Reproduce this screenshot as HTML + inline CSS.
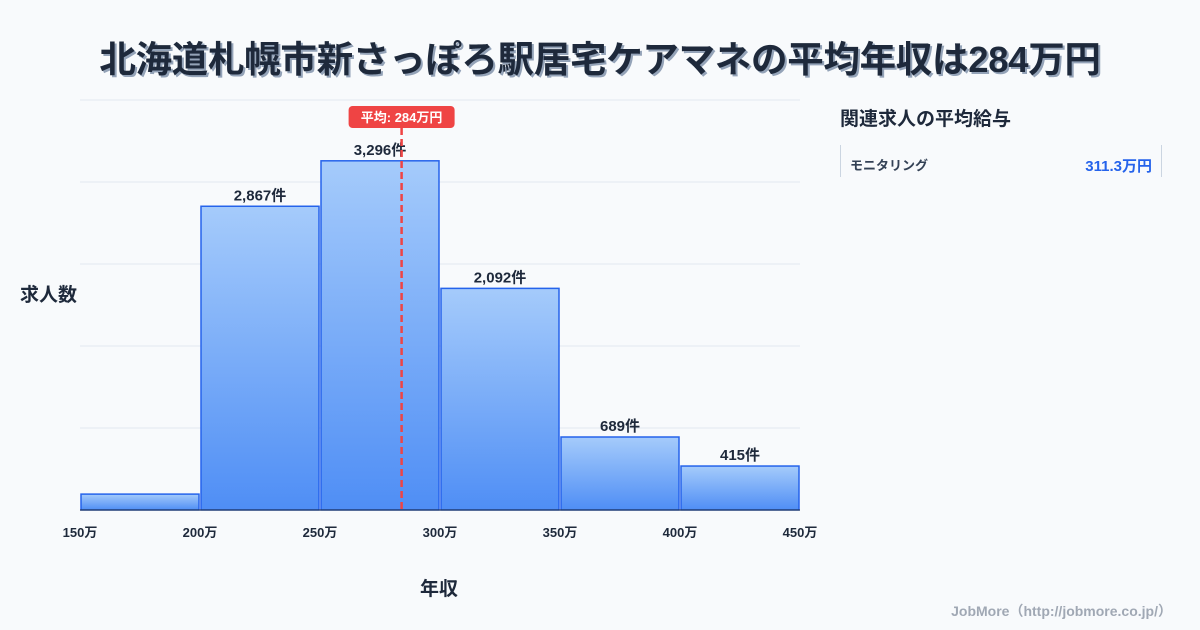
<!DOCTYPE html>
<html><head><meta charset="utf-8">
<style>
body{margin:0;width:1200px;height:630px;background:#f8fafc;font-family:"Liberation Sans","Noto Sans CJK JP",sans-serif;overflow:hidden;position:relative;color:#1e293b}
.t{position:absolute;font-weight:bold}
</style></head><body>
<div class="t" style="left:0;width:1200px;top:30px;text-align:center;font-size:36.5px;color:#1e293b;text-shadow:2px 2px 0 #94a3b8;letter-spacing:-0.3px">北海道札幌市新さっぽろ駅居宅ケアマネの平均年収は284万円</div>
<div class="t" style="left:20px;top:280px;font-size:19px">求人数</div>
<div class="t" style="left:420px;top:574px;font-size:19px">年収</div>
<div class="t" style="left:840px;top:104px;font-size:19px">関連求人の平均給与</div>
<div style="position:absolute;left:840px;top:145px;width:320px;height:32px;border-left:1px solid #cbd5e1;border-right:1px solid #cbd5e1">
<span class="t" style="left:9px;top:10px;font-size:13px;color:#334155">モニタリング</span>
<span class="t" style="right:9px;top:10px;font-size:15px;color:#2563eb">311.3万円</span></div>
<div style="position:absolute;right:28px;top:601px;font-size:14px;font-weight:bold;color:#a0a8b4">JobMore（http://jobmore.co.jp/）</div>
<svg id="c" width="1200" height="630" style="position:absolute;left:0;top:0">
<defs><linearGradient id="g" x1="0" y1="0" x2="0" y2="1"><stop offset="0" stop-color="#a5cbfb"/><stop offset="1" stop-color="#4f8ef5"/></linearGradient></defs>
</svg>
<script>
const binStarts=[150,200,250,300,350,400];
const counts=[150,2867,3296,2092,689,415];
const labels=["","2,867件","3,296件","2,092件","689件","415件"];
const xTicks=[150,200,250,300,350,400,450];
const avg=284;
const yMax=3870;
const svg=document.getElementById('c');
const NS='http://www.w3.org/2000/svg';
const x=v=>80+(v-150)*720/300;
const y=v=>510-v*410/yMax;
function mk(t,a){const e=document.createElementNS(NS,t);for(const k in a)e.setAttribute(k,a[k]);svg.appendChild(e);return e;}
for(let i=1;i<=5;i++){const g=mk('line',{x1:80,x2:800,y1:y(yMax*i/5),y2:y(yMax*i/5),stroke:'#e2e8f0'});

}
binStarts.forEach((b,i)=>{
const r=mk('rect',{x:x(b)+1,y:y(counts[i]),width:x(b+50)-x(b)-2,height:510-y(counts[i]),fill:'url(#g)',stroke:'#2563eb','stroke-width':1.5});


if(labels[i]){const t=mk('text',{x:(x(b)+x(b+50))/2,y:y(counts[i])-6,'text-anchor':'middle','font-size':15,'font-weight':'bold',fill:'#1e293b'});t.textContent=labels[i];

}
});
mk('line',{x1:80,x2:800,y1:510,y2:510,stroke:'#1e293b'});
xTicks.forEach(v=>{const t=mk('text',{x:x(v),y:537,'text-anchor':'middle','font-size':13,'font-weight':'bold',fill:'#1e293b'});t.textContent=v+'万';

});
const ax=x(avg);
const l=mk('line',{x1:ax,x2:ax,y1:128,y2:510,stroke:'#ef4444','stroke-width':2.5,'stroke-dasharray':'7,4'});


const bx=mk('rect',{x:ax-53,y:106,width:106,height:22,rx:4,fill:'#ef4444'});


const bt=mk('text',{x:ax,y:122,'text-anchor':'middle','font-size':13,'font-weight':'bold',fill:'#fff'});bt.textContent='平均: '+avg+'万円';


</script>
</body></html>
